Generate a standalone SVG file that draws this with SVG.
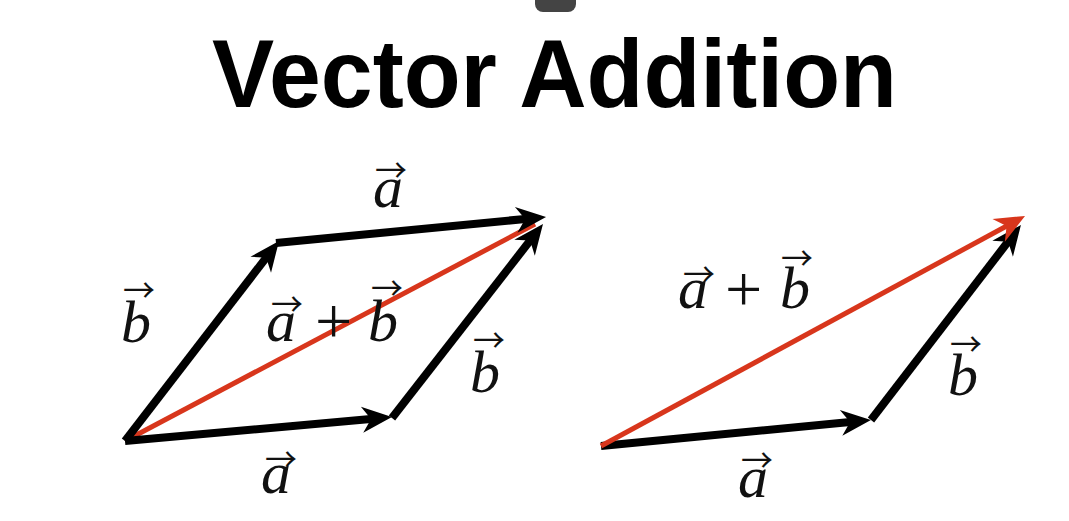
<svg xmlns="http://www.w3.org/2000/svg" width="1069" height="521" viewBox="0 0 1069 521">
  <style>
    .title { font-family: "Liberation Sans", Arial, sans-serif; font-weight: bold; font-size: 97px; fill: #000; }
    .m { font-family: "Liberation Serif", "Times New Roman", serif; font-style: italic; font-size: 60px; fill: #111; }
    .op { font-family: "Liberation Serif", "Times New Roman", serif; font-style: normal; font-size: 66px; }
    .acc { font-family: "Noto Sans CJK SC", "DejaVu Sans", sans-serif; font-style: normal; font-size: 32px; }
    .blk { stroke: #000; stroke-width: 8; fill: none; marker-end: url(#headK); }
    .red { stroke: #d8361c; stroke-width: 5; fill: none; }
  </style>
  <defs>
    <marker id="headK" markerUnits="userSpaceOnUse" orient="auto" refX="0" refY="0" markerWidth="40" markerHeight="40" overflow="visible">
      <path d="M13,0 L-17,-13 L-8,0 L-17,13 Z" fill="#000"/>
    </marker>
    <marker id="headR" markerUnits="userSpaceOnUse" orient="auto" refX="0" refY="0" markerWidth="40" markerHeight="40" overflow="visible">
      <path d="M13,0 L-17,-13 L-8,0 L-17,13 Z" fill="#d8361c"/>
    </marker>
  </defs>
  <rect width="1069" height="521" fill="#ffffff"/>
  <rect x="535" y="-10" width="41" height="22" rx="8" fill="#444444"/>

  <text id="title" class="title" x="212" y="107" textLength="685" lengthAdjust="spacingAndGlyphs">Vector Addition</text>

  <g id="connectors">
    <!-- left parallelogram -->
    <line class="red" x1="125" y1="441" x2="535" y2="224"/>
    <line class="blk" x1="125" y1="441" x2="379" y2="418.2"/>
    <line class="blk" x1="125" y1="441" x2="271.1" y2="251.3"/>
    <line class="blk" x1="276" y1="243" x2="533.1" y2="218.2"/>
    <line class="blk" x1="392" y1="418" x2="535" y2="234.3"/>
    <!-- right triangle -->
    <line class="blk" x1="601" y1="446" x2="858" y2="421.3"/>
    <line class="blk" x1="871" y1="420" x2="1013" y2="235.3"/>
    <line class="red" x1="601" y1="446" x2="1013.6" y2="222.2" marker-end="url(#headR)"/>
  </g>

  <g id="label-left-top-a">
    <text class="m"><tspan class="acc" x="375" y="182">→</tspan><tspan x="373" y="207">a</tspan></text>
  </g>
  <g id="label-left-b">
    <text class="m"><tspan class="acc" x="123" y="302">→</tspan><tspan x="121" y="342">b</tspan></text>
  </g>
  <g id="label-left-sum">
    <text class="m"><tspan class="acc" x="271" y="316">→</tspan><tspan x="266" y="341">a</tspan><tspan class="op" x="315" y="343">+</tspan><tspan class="acc" x="371" y="300">→</tspan><tspan x="368" y="341">b</tspan></text>
  </g>
  <g id="label-left-right-b">
    <text class="m"><tspan class="acc" x="473" y="352">→</tspan><tspan x="470" y="392">b</tspan></text>
  </g>
  <g id="label-left-bottom-a">
    <text class="m"><tspan class="acc" x="265" y="471">→</tspan><tspan x="261" y="493">a</tspan></text>
  </g>

  <g id="label-right-sum">
    <text class="m"><tspan class="acc" x="683" y="286">→</tspan><tspan x="678" y="308">a</tspan><tspan class="op" x="725" y="311">+</tspan><tspan class="acc" x="781" y="270">→</tspan><tspan x="780" y="308">b</tspan></text>
  </g>
  <g id="label-right-b">
    <text class="m"><tspan class="acc" x="950" y="356">→</tspan><tspan x="948" y="395">b</tspan></text>
  </g>
  <g id="label-right-bottom-a">
    <text class="m"><tspan class="acc" x="741" y="472">→</tspan><tspan x="738" y="497">a</tspan></text>
  </g>
</svg>
